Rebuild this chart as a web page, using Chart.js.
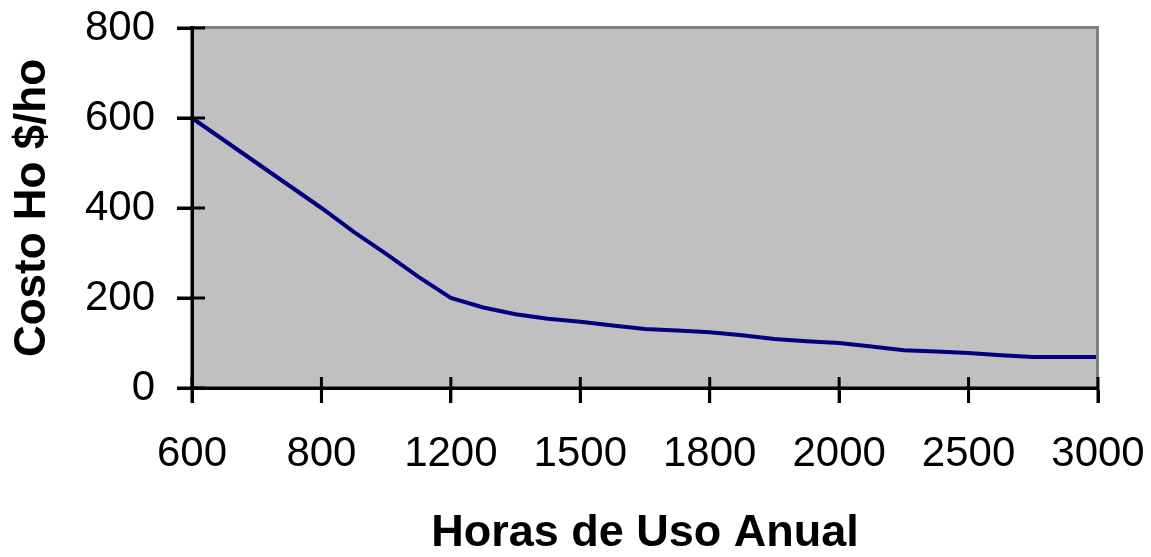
<!DOCTYPE html>
<html>
<head>
<meta charset="utf-8">
<script src="https://cdn.jsdelivr.net/npm/chart.js@4"></script>
<style>
  html, body { margin: 0; padding: 0; background: #ffffff; }
  #wrap { width: 1151px; height: 557px; }
</style>
</head>
<body>
<div id="wrap"><canvas id="c" width="1151" height="557"></canvas></div>
<script>
// Labeled hour values shown on the x axis
const tickLabels = ['600', '800', '1200', '1500', '1800', '2000', '2500', '3000'];
// Data points between consecutive labels (the series is sampled 4 times per labeled interval)
const pointsPerLabel = 4;
// Hourly cost ($/ho)
const costo = [600, 550, 500, 450, 400, 347, 298, 247, 200, 179, 164, 154, 147, 139, 131, 128, 124, 117, 109, 104, 100, 92, 84, 81, 78, 73, 69, 69, 69];
const yTicks = [0, 200, 400, 600, 800];

const categories = costo.map((_, i) => (i % pointsPerLabel === 0 ? tickLabels[i / pointsPerLabel] : ''));

const FONT = "'Liberation Sans', Arial, sans-serif";

const plotDecor = {
  id: 'plotDecor',
  beforeDraw(chart) {
    const { ctx, chartArea: a } = chart;
    ctx.save();
    ctx.fillStyle = '#C0C0C0';
    ctx.fillRect(a.left, a.top, a.right - a.left, a.bottom - a.top);
    ctx.restore();
  },
  afterDraw(chart) {
    const { ctx, chartArea: a, scales } = chart;
    ctx.save();
    ctx.strokeStyle = '#808080';
    ctx.lineWidth = 3;
    ctx.beginPath();
    ctx.moveTo(a.left, a.top - 0.5);
    ctx.lineTo(a.right - 0.5, a.top - 0.5);
    ctx.lineTo(a.right - 0.5, a.bottom);
    ctx.stroke();
    ctx.strokeStyle = '#000';
    ctx.lineWidth = 3;
    ctx.beginPath();
    ctx.moveTo(a.left, a.top - 2);
    ctx.lineTo(a.left, a.bottom);
    ctx.lineTo(a.right, a.bottom);
    ctx.stroke();
    const y = scales.y, x = scales.x;
    ctx.beginPath();
    y.ticks.forEach((t, i) => {
      const py = y.getPixelForTick(i);
      ctx.moveTo(a.left - 15, py);
      ctx.lineTo(a.left + 13, py);
    });
    x.ticks.forEach((t, i) => {
      if (i % pointsPerLabel !== 0) return;
      const px = x.getPixelForTick(i);
      ctx.moveTo(px, a.bottom - 11);
      ctx.lineTo(px, a.bottom + 15);
    });
    ctx.stroke();
    ctx.restore();
  }
};

function zeroPad(s) {
  s.paddingTop = 0; s.paddingBottom = 0; s.paddingLeft = 0; s.paddingRight = 0;
}

new Chart(document.getElementById('c'), {
  type: 'line',
  data: {
    labels: categories,
    datasets: [{
      data: costo,
      borderColor: '#000080',
      borderWidth: 4,
      pointRadius: 0,
      tension: 0,
      fill: false
    }]
  },
  options: {
    responsive: false,
    animation: false,
    devicePixelRatio: 1,
    layout: { padding: { left: 11, right: 53, top: 28, bottom: 1 } },
    plugins: { legend: { display: false }, tooltip: { enabled: false } },
    scales: {
      x: {
        type: 'category',
        offset: false,
        grid: {
          drawOnChartArea: false,
          drawTicks: true,
          tickLength: 15,
          tickWidth: 3,
          tickColor: (ctx) => (ctx.index % pointsPerLabel === 0 ? '#000' : 'rgba(0,0,0,0)')
        },
        border: { color: '#000', width: 3 },
        ticks: {
          autoSkip: false,
          maxRotation: 0,
          minRotation: 0,
          padding: 26,
          color: '#000',
          font: { family: FONT, size: 42 },
          callback: (v, i) => categories[i]
        },
        title: {
          display: true,
          text: 'Horas de Uso Anual',
          color: '#000',
          font: { family: FONT, size: 45, weight: 'bold', lineHeight: 1 },
          padding: { top: 0, bottom: 0 }
        },
        afterFit: (s) => { s.height = 557 - 388 - 1; zeroPad(s); }
      },
      y: {
        min: 0,
        max: 800,
        afterBuildTicks: (s) => { s.ticks = yTicks.map(v => ({ value: v })); },
        grid: {
          drawOnChartArea: false,
          drawTicks: true,
          tickLength: 15,
          tickWidth: 3,
          tickColor: '#000'
        },
        border: { color: '#000', width: 3 },
        ticks: {
          padding: 22,
          color: '#000',
          font: { family: FONT, size: 42 }
        },
        title: {
          display: true,
          text: 'Costo Ho $/ho',
          color: '#000',
          font: { family: FONT, size: 44, weight: 'bold', lineHeight: 1 },
          padding: { top: 0, bottom: 0 }
        },
        afterFit: (s) => { s.width = 192 - 11; zeroPad(s); }
      }
    }
  },
  plugins: [plotDecor]
});
</script>
</body>
</html>
